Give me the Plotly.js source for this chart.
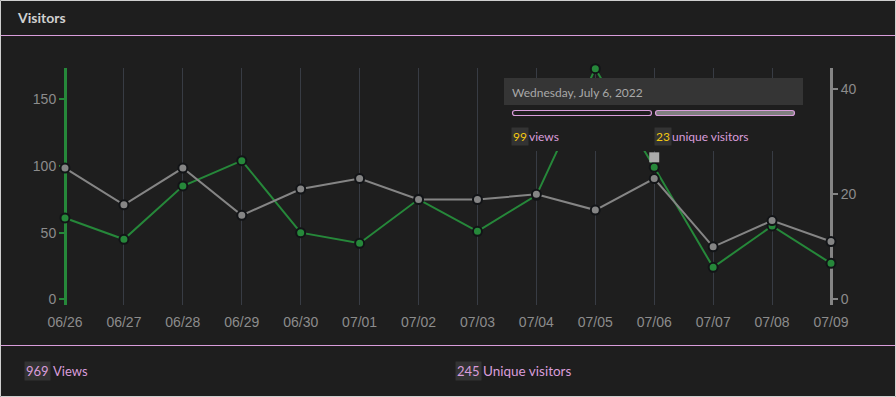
<!DOCTYPE html>
<html><head><meta charset="utf-8">
<script src="https://cdn.plot.ly/plotly-3.0.1.min.js"></script>
<style>html,body{margin:0;padding:0;background:#1e1e1e;}#chart{width:896px;height:397px;}</style>
</head><body><div id="chart"></div>
<script>
// ---- data ----
const dates = ['06/26','06/27','06/28','06/29','06/30','07/01','07/02','07/03','07/04','07/05','07/06','07/07','07/08','07/09'];
const views = [61,45,85,104,50,42,75,51,78,173,99,24,55,27];
const uniqueVisitors = [25,18,25,16,21,23,19,19,20,17,23,10,15,11];
const leftTicks = [0,50,100,150];
const rightTicks = [0,20,40];
const hoverIndex = 10;
const hoverDateLabel = 'Wednesday, July 6, 2022';
const totalViews = views.reduce((a,b)=>a+b,0);
const totalUnique = 245;

// ---- layout helpers (pixel -> paper) ----
const W=896,H=397,ML=56,MR=56,T=68,B=305;
const PL=ML, PR=W-MR, PW=PR-PL;            // plot area in pixels
const AXL=65, AXR=831;                      // where the first / last category sit
const n=dates.length-1;
const perCat=(AXR-AXL)/n;
const ext=(AXL-PL)/perCat;
const px = x => (x-PL)/PW;
const py = y => (B-y)/(B-T);
function rr(x0,y0,x1,y1,r){
  const X=px,Y=py;
  return `M${X(x0+r)},${Y(y0)} L${X(x1-r)},${Y(y0)} Q${X(x1)},${Y(y0)} ${X(x1)},${Y(y0+r)} L${X(x1)},${Y(y1-r)} Q${X(x1)},${Y(y1)} ${X(x1-r)},${Y(y1)} L${X(x0+r)},${Y(y1)} Q${X(x0)},${Y(y1)} ${X(x0)},${Y(y1-r)} L${X(x0)},${Y(y0+r)} Q${X(x0)},${Y(y0)} ${X(x0+r)},${Y(y0)} Z`;
}
const BG='#1e1e1e', GREEN='#26883a', GRAY='#858585', PINK='#d99ddb', YELLOW='#f2c811', TXT='#8c8c8c';
const FONT='Lato, "Open Sans", sans-serif';

const traces = [
  {x:dates, y:views, type:'scatter', mode:'lines+markers', yaxis:'y', cliponaxis:false,
   line:{color:GREEN,width:2}, marker:{color:GREEN,size:9,line:{color:'#121417',width:2}}},
  {x:dates, y:uniqueVisitors, type:'scatter', mode:'lines+markers', yaxis:'y2', cliponaxis:false,
   line:{color:GRAY,width:2}, marker:{color:GRAY,size:9,line:{color:'#121417',width:2}}}
];

function ann(text,x,y,o){
  return Object.assign({text:text,xref:'paper',yref:'paper',x:px(x),y:py(y),xanchor:'left',yanchor:'middle',
    showarrow:false,font:{family:FONT,size:13,color:PINK},borderpad:1},o||{});
}
const TIP={family:FONT,size:12,color:PINK};

const layout = {
  width:W,height:H,paper_bgcolor:BG,plot_bgcolor:BG,showlegend:false,hovermode:false,
  margin:{l:ML,r:MR,t:T,b:H-B,pad:0},
  font:{family:'"Liberation Sans", Arial, sans-serif',color:TXT,size:14},
  xaxis:{type:'category',range:[-ext,n+ext],showgrid:true,gridcolor:'#383c44',gridwidth:1,layer:'below traces',
    showline:false,zeroline:false,ticks:'',tickfont:{size:14,color:TXT},ticklabelstandoff:7,fixedrange:true},
  yaxis:{range:[-4.275,173.5],tickvals:leftTicks,showgrid:false,zeroline:false,showline:true,linecolor:GREEN,linewidth:3,
    anchor:'free',position:px(AXL),
    layer:'below traces',ticks:'outside',ticklen:5,tickwidth:2,tickcolor:GREEN,tickfont:{size:14,color:TXT},fixedrange:true},
  yaxis2:{range:[-1.086,44.06],tickvals:rightTicks,overlaying:'y',side:'right',anchor:'free',position:px(AXR),
    showgrid:false,zeroline:false,
    layer:'below traces',showline:true,linecolor:GRAY,linewidth:3,ticks:'outside',ticklen:5,tickwidth:2,tickcolor:GRAY,
    tickfont:{size:14,color:TXT},fixedrange:true},
  shapes:[
    {type:'rect',xref:'paper',yref:'paper',x0:px(0.5),x1:px(895.5),y0:py(0.5),y1:py(396.5),line:{color:'#cfcfcf',width:1},fillcolor:'rgba(0,0,0,0)',layer:'above'},
    {type:'line',xref:'paper',yref:'paper',x0:px(1),x1:px(895),y0:py(35.5),y1:py(35.5),line:{color:PINK,width:1}},
    {type:'line',xref:'paper',yref:'paper',x0:px(1),x1:px(895),y0:py(345.5),y1:py(345.5),line:{color:PINK,width:1}},
    // tooltip body (opaque)
    {type:'rect',xref:'paper',yref:'paper',x0:px(504),x1:px(803),y0:py(78),y1:py(151),fillcolor:BG,line:{width:0},layer:'above'},
    {type:'rect',xref:'paper',yref:'paper',x0:px(504),x1:px(803),y0:py(78),y1:py(105),fillcolor:'#353535',line:{width:0},layer:'above'},
    {type:'path',xref:'paper',yref:'paper',path:rr(512.5,110.5,651.5,115.5,2.5),fillcolor:BG,line:{color:PINK,width:1.2},layer:'above'},
    {type:'path',xref:'paper',yref:'paper',path:rr(655.5,110.5,794.5,115.5,2.5),fillcolor:'#808080',line:{color:PINK,width:1.2},layer:'above'},
    // hover indicator anchored to hovered point
    {type:'rect',xref:'x',yref:'y',xsizemode:'pixel',ysizemode:'pixel',xanchor:hoverIndex,yanchor:views[hoverIndex],
     x0:-5,x1:5,y0:5,y1:15,fillcolor:'#ababab',line:{width:0},layer:'above'}
  ],
  annotations:[
    ann('Visitors',15,18,{font:{family:FONT,size:14,color:'#d0d0d0',weight:'bold'}}),
    ann(hoverDateLabel,510,92,{font:{family:FONT,size:12,color:'#a8a8a8'}}),
    ann(String(views[hoverIndex]),511,136,{bgcolor:'#333333',font:{family:FONT,size:12,color:YELLOW}}),
    ann('views',527,136,{font:TIP}),
    ann(String(uniqueVisitors[hoverIndex]),654,136,{bgcolor:'#333333',font:{family:FONT,size:12,color:YELLOW}}),
    ann('unique visitors',670,136,{font:TIP}),
    ann(String(totalViews),24,371,{bgcolor:'#333333'}),
    ann('Views',51,371),
    ann(String(totalUnique),455,371,{bgcolor:'#333333'}),
    ann('Unique visitors',481,371,{font:{family:FONT,size:13.5,color:PINK}})
  ]
};
Plotly.newPlot('chart',traces,layout,{displayModeBar:false,staticPlot:true});
</script></body></html>
